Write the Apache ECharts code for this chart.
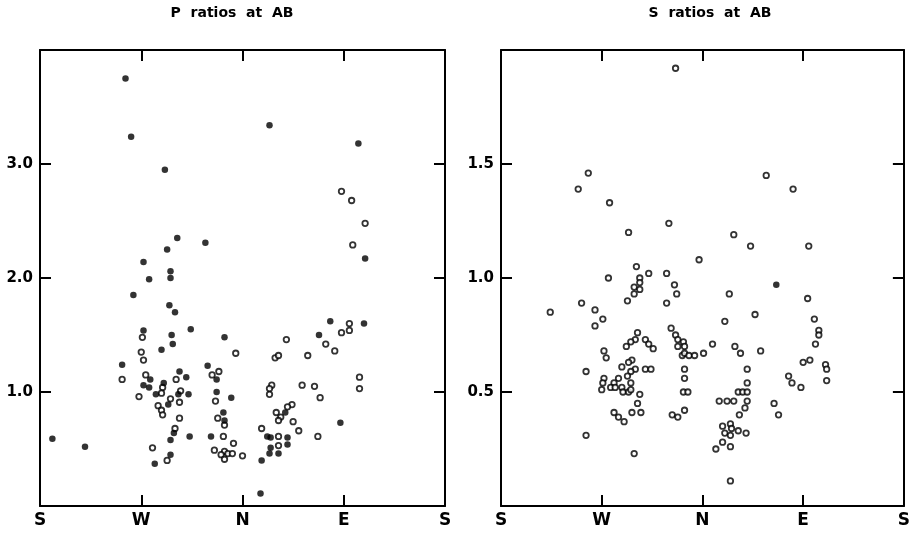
<!DOCTYPE html>
<html>
<head>
<meta charset="utf-8">
<script src="https://cdn.jsdelivr.net/npm/echarts@6/dist/echarts.min.js"></script>
<style>
  html, body { margin: 0; padding: 0; background: #fff; }
  #chart { width: 913px; height: 533px; }
</style>
</head>
<body>
<div id="chart"></div>
<script>
// Azimuth (degrees, counted from south through west) and amplitude ratio.
const directionLabels = ['S', 'W', 'N', 'E', 'S'];
const panelTitles = ['P  ratios  at  AB', 'S  ratios  at  AB'];

// P-wave ratios: solid symbols
const pSolid = [
  [76, 3.75], [81, 3.24], [111, 2.95], [204, 3.34], [283, 3.18],
  [122, 2.35], [147, 2.31], [113, 2.25], [92, 2.14], [116, 2.06],
  [97, 1.99], [116, 2.00], [83, 1.85], [115, 1.76], [120, 1.70],
  [134, 1.55], [92, 1.54], [117, 1.50], [118, 1.42], [164, 1.48],
  [108, 1.37], [73, 1.24], [124, 1.18], [149, 1.23], [98, 1.11],
  [130, 1.13], [157, 1.11], [92, 1.06], [97, 1.04], [110, 1.08],
  [103, 0.98], [123, 0.98], [132, 0.98], [157, 1.00], [170, 0.95],
  [114, 0.89], [163, 0.82], [164, 0.75], [119, 0.64], [116, 0.58],
  [133, 0.61], [152, 0.61], [116, 0.45], [102, 0.37], [11, 0.59],
  [40, 0.52], [289, 2.17], [258, 1.62], [288, 1.60], [248, 1.50],
  [218, 0.82], [267, 0.73], [202, 0.61], [205, 0.60], [220, 0.60],
  [220, 0.54], [205, 0.51], [204, 0.46], [212, 0.46], [197, 0.40],
  [196, 0.11]
];

// P-wave ratios: open symbols
const pOpen = [
  [268, 2.76], [277, 2.68], [289, 2.48], [278, 2.29], [91, 1.48],
  [90, 1.35], [92, 1.28], [174, 1.34], [159, 1.18], [73, 1.11],
  [94, 1.15], [121, 1.11], [153, 1.15], [109, 1.04], [108, 0.99],
  [88, 0.96], [125, 1.01], [124, 0.91], [116, 0.94], [156, 0.92],
  [105, 0.88], [108, 0.84], [109, 0.80], [124, 0.77], [158, 0.77],
  [164, 0.71], [120, 0.68], [163, 0.61], [172, 0.55], [100, 0.51],
  [155, 0.49], [164, 0.48], [161, 0.45], [167, 0.46], [164, 0.41],
  [180, 0.44], [113, 0.40], [219, 1.46], [254, 1.42], [268, 1.52],
  [275, 1.60], [275, 1.54], [262, 1.36], [238, 1.32], [209, 1.30],
  [212, 1.32], [284, 1.13], [284, 1.03], [233, 1.06], [244, 1.05],
  [249, 0.95], [206, 1.06], [204, 1.03], [204, 0.98], [224, 0.89],
  [220, 0.87], [210, 0.82], [214, 0.78], [212, 0.75], [225, 0.74],
  [230, 0.66], [197, 0.68], [212, 0.61], [247, 0.61], [212, 0.53],
  [171, 0.46]
];

// S-wave ratios: open symbols
const sOpen = [
  [156, 1.92], [78, 1.46], [237, 1.45], [69, 1.39], [261, 1.39],
  [97, 1.33], [150, 1.24], [114, 1.20], [208, 1.19], [223, 1.14],
  [275, 1.14], [177, 1.08], [121, 1.05], [132, 1.02], [148, 1.02],
  [96, 1.00], [124, 1.00], [124, 0.98], [119, 0.96], [124, 0.95],
  [155, 0.97], [157, 0.93], [204, 0.93], [119, 0.93], [113, 0.90],
  [274, 0.91], [148, 0.89], [72, 0.89], [84, 0.86], [44, 0.85],
  [91, 0.82], [84, 0.79], [227, 0.84], [200, 0.81], [280, 0.82],
  [284, 0.77], [284, 0.75], [281, 0.71], [152, 0.78], [122, 0.76],
  [120, 0.73], [116, 0.72], [112, 0.70], [129, 0.73], [132, 0.71],
  [136, 0.69], [156, 0.75], [158, 0.73], [163, 0.72], [158, 0.70],
  [164, 0.70], [189, 0.71], [209, 0.70], [214, 0.67], [232, 0.68],
  [162, 0.66], [164, 0.67], [168, 0.66], [173, 0.66], [181, 0.67],
  [92, 0.68], [94, 0.65], [76, 0.59], [117, 0.64], [114, 0.63],
  [108, 0.61], [129, 0.60], [134, 0.60], [120, 0.60], [116, 0.59],
  [113, 0.57], [116, 0.54], [105, 0.56], [101, 0.54], [98, 0.52],
  [102, 0.52], [92, 0.56], [91, 0.54], [90, 0.51], [108, 0.52],
  [109, 0.50], [114, 0.50], [116, 0.51], [124, 0.49], [122, 0.45],
  [117, 0.41], [125, 0.41], [101, 0.41], [105, 0.39], [110, 0.37],
  [164, 0.60], [164, 0.56], [163, 0.50], [167, 0.50], [164, 0.42],
  [153, 0.40], [158, 0.39], [76, 0.31], [119, 0.23], [220, 0.60],
  [220, 0.54], [212, 0.50], [216, 0.50], [220, 0.50], [195, 0.46],
  [202, 0.46], [208, 0.46], [220, 0.46], [218, 0.43], [213, 0.40],
  [244, 0.45], [248, 0.40], [257, 0.57], [260, 0.54], [268, 0.52],
  [270, 0.63], [276, 0.64], [290, 0.62], [291, 0.60], [291, 0.55],
  [205, 0.36], [198, 0.35], [200, 0.32], [206, 0.34], [205, 0.31],
  [212, 0.33], [219, 0.32], [198, 0.28], [192, 0.25], [205, 0.26],
  [205, 0.11]
];

// S-wave ratios: solid symbols
const sSolid = [[246, 0.97]];

const ink = '#000';
const fontFamily = '"DejaVu Sans", "Liberation Sans", sans-serif';

function xAxes(gridIndex) {
  const base = {
    gridIndex, type: 'value', min: 0, max: 360, interval: 90,
    splitLine: { show: false },
    axisLine: { show: true, onZero: false, lineStyle: { color: ink, width: 2 } },
    axisTick: { show: true, inside: true, length: 11, lineStyle: { color: ink, width: 2 } }
  };
  return [
    Object.assign({}, base, {
      position: 'bottom',
      axisLabel: {
        color: ink, fontFamily, fontWeight: 'bold', fontSize: 17, margin: 6,
        formatter: v => directionLabels[Math.round(v / 90)]
      }
    }),
    Object.assign({}, base, { position: 'top', axisLabel: { show: false } })
  ];
}

function yAxes(gridIndex, max, interval) {
  const base = {
    gridIndex, type: 'value', min: 0, max, interval,
    splitLine: { show: false },
    axisLine: { show: true, onZero: false, lineStyle: { color: ink, width: 2 } },
    axisTick: { show: true, inside: true, length: 11, lineStyle: { color: ink, width: 2 } }
  };
  return [
    Object.assign({}, base, {
      position: 'left',
      axisLabel: {
        color: ink, fontFamily, fontWeight: 'bold', fontSize: 15, margin: 7,
        formatter: v => (v <= 0 || v >= max) ? '' : v.toFixed(1)
      }
    }),
    Object.assign({}, base, { position: 'right', axisLabel: { show: false } })
  ];
}

function solidSeries(data, axisIdx) {
  return {
    type: 'scatter', xAxisIndex: axisIdx, yAxisIndex: axisIdx, data,
    symbol: 'circle', symbolSize: 6.5, silent: true,
    itemStyle: { color: ink }
  };
}

function openSeries(data, axisIdx) {
  return {
    type: 'scatter', xAxisIndex: axisIdx, yAxisIndex: axisIdx, data,
    symbol: 'circle', symbolSize: 5.5, silent: true,
    itemStyle: { color: '#fff', borderColor: ink, borderWidth: 1.8 }
  };
}

const chart = echarts.init(document.getElementById('chart'), null, { renderer: 'canvas' });
chart.setOption({
  backgroundColor: '#fff',
  animation: false,
  title: [
    { text: panelTitles[0], left: 227, top: 1, textAlign: 'center',
      textStyle: { color: ink, fontFamily, fontWeight: 'bold', fontSize: 14 } },
    { text: panelTitles[1], left: 705, top: 1, textAlign: 'center',
      textStyle: { color: ink, fontFamily, fontWeight: 'bold', fontSize: 14 } }
  ],
  grid: [
    { left: 40, right: 468, top: 50, bottom: 27 },
    { left: 501, right: 7, top: 50, bottom: 27 }
  ],
  xAxis: [...xAxes(0), ...xAxes(1)],
  yAxis: [...yAxes(0, 4, 1), ...yAxes(1, 2, 0.5)],
  series: [
    openSeries(pOpen, 0),
    solidSeries(pSolid, 0),
    openSeries(sOpen, 2),
    solidSeries(sSolid, 2)
  ]
});
</script>
</body>
</html>
